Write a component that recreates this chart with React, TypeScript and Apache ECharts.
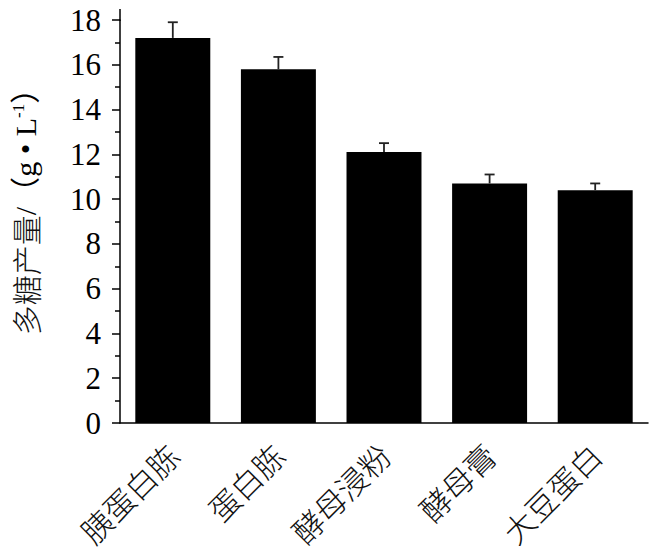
import React, { useEffect, useRef } from "react";
import * as echarts from "echarts";

const categories = ["胰蛋白胨", "蛋白胨", "酵母浸粉", "酵母膏", "大豆蛋白"];
const values = [17.2, 15.8, 12.1, 10.7, 10.4];
const errors = [0.7, 0.55, 0.4, 0.4, 0.3];
const yTicks = { min: 0, max: 18, interval: 2 };

export default function App() {
  const ref = useRef<HTMLDivElement>(null);
  useEffect(() => {
    if (!ref.current) return;
    const chart = echarts.init(ref.current, undefined, { renderer: "svg" });
    const serif = "'Liberation Serif'";
    const cjk = "'Noto Sans CJK SC'";
    chart.setOption({
      animation: false,
      backgroundColor: "#fff",
      grid: { left: 120, top: 20, right: 3, bottom: 137, containLabel: false },
      graphic: [
        {
          type: "line",
          shape: { x1: 120, y1: 9, x2: 120, y2: 21 },
          style: { stroke: "#000", lineWidth: 1.5 },
        },
      ],
      xAxis: {
        type: "category",
        data: categories,
        axisLine: { lineStyle: { color: "#000", width: 1.5 } },
        axisTick: { alignWithLabel: true, length: 7, lineStyle: { color: "#000", width: 1.5 } },
        axisLabel: {
          interval: 0,
          rotate: 45,
          fontSize: 31,
          fontWeight: 300,
          fontFamily: cjk,
          color: "#111",
          margin: 26,
        },
      },
      yAxis: {
        type: "value",
        min: yTicks.min,
        max: yTicks.max,
        interval: yTicks.interval,
        splitLine: { show: false },
        axisLine: { show: true, lineStyle: { color: "#000", width: 1.5 } },
        axisTick: { show: true, length: 8, lineStyle: { color: "#000", width: 1.5 } },
        minorTick: { show: true, splitNumber: 2, length: 5, lineStyle: { color: "#000", width: 1.5 } },
        axisLabel: { fontSize: 31, fontFamily: serif, color: "#000", margin: 19 },
        name: "{c|多糖产量}{a|/（g • L}{s|-1}{a|）}",
        nameLocation: "middle",
        nameRotate: 90,
        nameGap: 80,
        nameTextStyle: {
          padding: [0, 0, 0, 34],
          rich: {
            c: { fontSize: 30, fontWeight: 300, fontFamily: cjk, color: "#111" },
            a: { fontSize: 30, fontFamily: serif + ", " + cjk, color: "#000" },
            s: { fontSize: 17, fontFamily: serif, color: "#000", verticalAlign: "top", padding: [0, 0, 12, 0] },
          },
        },
      },
      series: [
        {
          type: "bar",
          data: values,
          barWidth: "71%",
          itemStyle: { color: "#000" },
        },
        {
          type: "custom",
          z: 5,
          data: categories.map((_, i) => [i, values[i], errors[i]]),
          renderItem: (params: any, api: any) => {
            const i = api.value(0);
            const v = api.value(1);
            const e = api.value(2);
            const base = api.coord([i, v]);
            const top = api.coord([i, v + e]);
            const hw = 5;
            const style = { stroke: "#222", lineWidth: 1.8 };
            return {
              type: "group",
              children: [
                { type: "line", shape: { x1: base[0], y1: base[1], x2: top[0], y2: top[1] }, style },
                { type: "line", shape: { x1: top[0] - hw, y1: top[1], x2: top[0] + hw, y2: top[1] }, style },
              ],
            };
          },
        },
      ],
    });
    return () => chart.dispose();
  }, []);
  return <div ref={ref} style={{ width: 651, height: 560, position: "absolute", left: 0, top: 0 }} />;
}
